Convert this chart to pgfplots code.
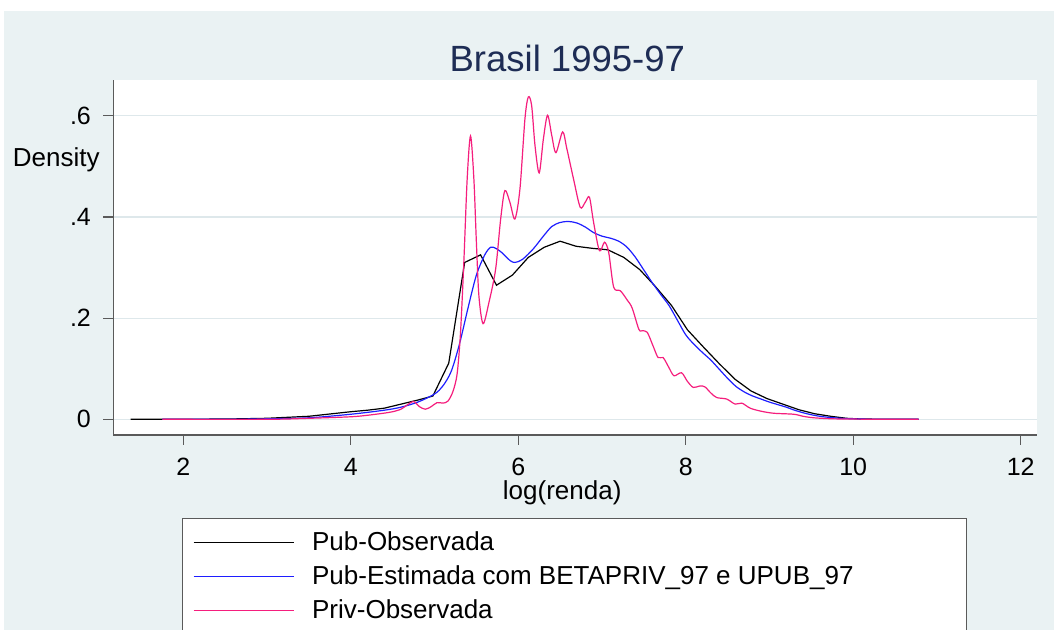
\documentclass[border=0pt]{standalone}
\usepackage{pgfplots}
\pgfplotsset{compat=1.18}
\usepackage{fontspec}
\setmainfont{Liberation Sans}
\definecolor{bgc}{RGB}{234,242,243}
\definecolor{gridc}{RGB}{222,232,235}
\definecolor{titc}{RGB}{30,45,85}
\definecolor{pubest}{RGB}{30,30,255}
\definecolor{priv}{RGB}{245,30,125}
\definecolor{axc}{RGB}{90,90,90}
\begin{document}
\begin{tikzpicture}
\path[use as bounding box] (-56.65pt,-97.5pt) rectangle (470.35pt,217.5pt);
\fill[bgc] (-54.65pt,-97.5pt) rectangle (470.35pt,212pt);
\begin{axis}[
  at={(0pt,0pt)}, anchor=south west, scale only axis,
  width=461.85pt, height=177.5pt,
  xmin=1.164, xmax=12.195, ymin=-0.031, ymax=0.6706,
  axis background/.style={fill=white},
  axis x line*=bottom, axis y line*=left,
  axis line style={draw=axc, line width=0.7pt},
  tick align=outside, major tick length=5pt,
  tick style={draw=axc, line width=0.6pt},
  xtick={2,4,6,8,10,12}, xticklabels={2,4,6,8,10,12},
  ytick={0,0.2,0.4,0.6}, yticklabels={0,.2,.4,.6},
  ymajorgrids, grid style={draw=gridc, line width=0.6pt},
  tick label style={font=\fontsize{12.5}{15}\selectfont},
  xticklabel style={anchor=base, inner sep=0pt, yshift=-15.35pt},
  yticklabel style={anchor=east, inner sep=0pt, xshift=-6pt},
  title={Brasil 1995-97},
  every axis title/.style={at={(axis description cs:0.4915,1)}, anchor=base, yshift=4.15pt, inner sep=0pt, font=\fontsize{18.25}{22}\selectfont, text=titc},
  xlabel={log(renda)},
  every axis x label/.style={at={(axis description cs:0.486,-0.1811)}, anchor=base, inner sep=0pt, font=\fontsize{13}{15}\selectfont},
  ylabel={Density},
  every axis y label/.style={at={(axis description cs:-0.0144,0.7577)}, anchor=base east, inner sep=0pt, font=\fontsize{13}{15}\selectfont},
  legend cell align=left,
  legend style={at={(axis description cs:0.0747,-0.233)}, anchor=north west, draw=axc, fill=white, inner xsep=0pt, inner ysep=3.45pt, row sep=0pt, font=\fontsize{13}{15}\selectfont, nodes={inner sep=0pt}},
  legend image code/.code={\path[draw=none,fill=none] (0pt,-8.55pt) rectangle (64.7pt,8.55pt); \draw[#1] (5.5pt,0pt) -- (55.85pt,0pt);},
]
\addplot[black, line width=0.6pt] coordinates {
(1.37,0) (2.5,0.0005) (3.0,0.002) (3.5,0.006) (4.0,0.015) (4.2,0.018) (4.4,0.022) (4.6,0.030) (4.8,0.038) (4.98,0.046)
(5.17,0.111) (5.36,0.310) (5.55,0.325) (5.74,0.265) (5.93,0.285) (6.12,0.320) (6.31,0.340) (6.50,0.352) (6.69,0.342)
(6.88,0.338) (7.07,0.335) (7.26,0.320) (7.45,0.296) (7.64,0.262) (7.83,0.225) (8.02,0.177) (8.21,0.143) (8.40,0.110)
(8.59,0.079) (8.78,0.056) (8.97,0.041) (9.16,0.030) (9.35,0.019) (9.54,0.011) (9.73,0.006) (9.92,0.002) (10.11,0.0005) (10.78,0)
};
\addlegendentry{\makebox[327pt][l]{\rule[-3.9pt]{0pt}{13.2pt}Pub-Observada}}
\addplot[pubest, line width=0.6pt, smooth] coordinates {
(1.75,0) (2.5,0) (3.0,0.001) (3.5,0.003) (4.0,0.010) (4.4,0.018) (4.6,0.024) (4.8,0.034) (5.0,0.050) (5.1,0.066)
(5.2,0.095) (5.3,0.150) (5.4,0.220) (5.5,0.285) (5.6,0.325) (5.67,0.340) (5.73,0.338) (5.8,0.330) (5.9,0.314)
(5.96,0.310) (6.05,0.316) (6.18,0.337) (6.3,0.362) (6.4,0.381) (6.5,0.389) (6.6,0.391) (6.7,0.388) (6.8,0.380)
(6.9,0.369) (7.0,0.362) (7.1,0.358) (7.2,0.352) (7.3,0.340) (7.4,0.320) (7.5,0.295) (7.6,0.270) (7.7,0.247)
(7.8,0.225) (7.9,0.196) (8.0,0.167) (8.1,0.148) (8.2,0.132) (8.3,0.117) (8.4,0.099) (8.5,0.081) (8.6,0.065)
(8.7,0.054) (8.8,0.046) (8.9,0.040) (9.0,0.034) (9.1,0.029) (9.2,0.024) (9.3,0.018) (9.4,0.013) (9.5,0.009)
(9.6,0.006) (9.7,0.004) (9.85,0.002) (10.0,0.001) (10.3,0) (10.78,0)
};
\addlegendentry{\makebox[327pt][l]{\rule[-3.9pt]{0pt}{13.2pt}Pub-Estimada com BETAPRIV\_97 e UPUB\_97}}
\addplot[priv, line width=0.6pt, smooth] coordinates {
(1.75,0) (3.0,0) (3.5,0.002) (4.0,0.005) (4.2,0.008) (4.39,0.012) (4.5,0.015) (4.6,0.020) (4.67,0.028) (4.75,0.035)
(4.82,0.025) (4.89,0.020) (4.96,0.025) (5.03,0.033) (5.1,0.032) (5.16,0.036) (5.22,0.055) (5.27,0.090) (5.31,0.170)
(5.35,0.310) (5.39,0.475) (5.43,0.560) (5.47,0.475) (5.5,0.350) (5.53,0.244) (5.58,0.189) (5.65,0.231) (5.73,0.297)
(5.79,0.396) (5.84,0.452) (5.90,0.429) (5.96,0.396) (6.02,0.455) (6.08,0.594) (6.12,0.637) (6.16,0.620) (6.20,0.541)
(6.25,0.487) (6.30,0.554) (6.35,0.601) (6.40,0.561) (6.45,0.527) (6.53,0.568) (6.58,0.535) (6.66,0.475) (6.74,0.419)
(6.80,0.429) (6.85,0.439) (6.90,0.389) (6.97,0.333) (7.03,0.350) (7.08,0.330) (7.14,0.261) (7.22,0.254) (7.30,0.236)
(7.36,0.220) (7.44,0.178) (7.48,0.175) (7.54,0.172) (7.61,0.145) (7.67,0.122) (7.73,0.122) (7.80,0.102) (7.86,0.086)
(7.95,0.092) (8.02,0.075) (8.09,0.063) (8.17,0.066) (8.23,0.064) (8.30,0.052) (8.37,0.043) (8.49,0.040) (8.59,0.030)
(8.67,0.032) (8.77,0.022) (8.9,0.016) (9.05,0.012) (9.29,0.010) (9.4,0.006) (9.53,0.003) (9.75,0.001) (10.0,0.0005)
(10.3,0) (10.78,0)
};
\addlegendentry{\makebox[327pt][l]{\rule[-3.9pt]{0pt}{13.2pt}Priv-Observada}}
\end{axis}
\end{tikzpicture}
\end{document}
